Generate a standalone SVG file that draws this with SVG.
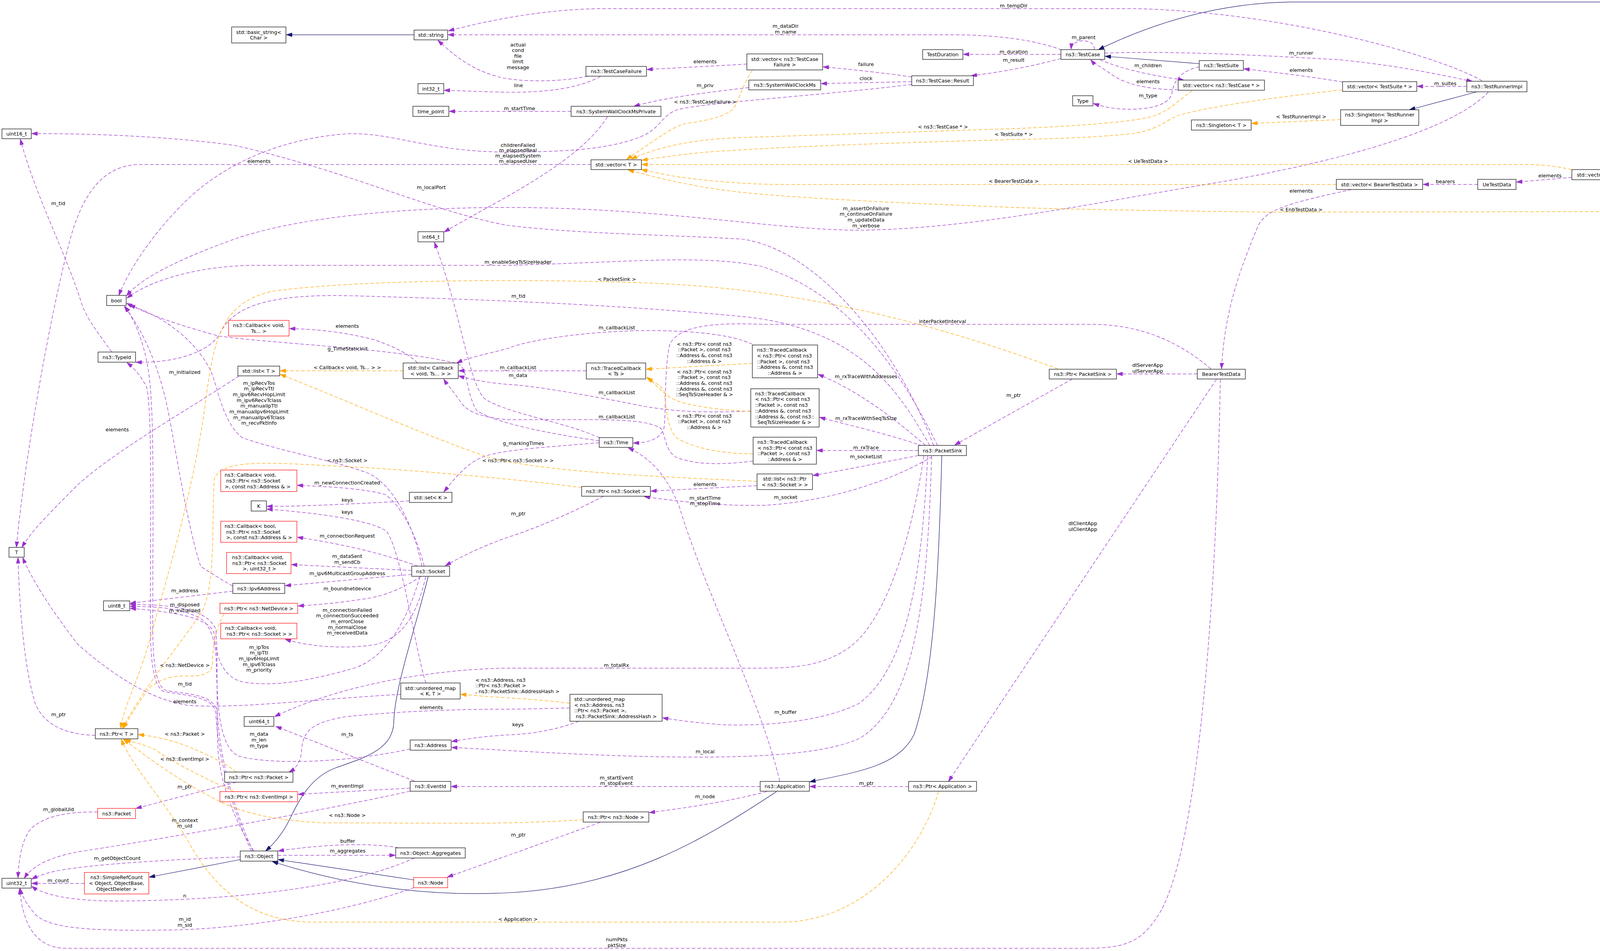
<svg xmlns="http://www.w3.org/2000/svg" width="5059" height="2434" viewBox="0 0 5059 2434">
<style>
text{font-family:"DejaVu Sans","Liberation Sans",sans-serif;font-size:12.8px;fill:#000}
.m{text-anchor:middle}
.s{text-anchor:start}
.nd rect{fill:#fff;stroke:#000;stroke-width:1.2}
.nd.r rect{stroke:#ff0000}
.nd.g rect{fill:#bfbfbf}
.e{fill:none;stroke-width:1.25}
.u{stroke:#9a32cd;stroke-dasharray:9,5;marker-end:url(#au)}
.t{stroke:#ffa500;stroke-dasharray:9,5;marker-end:url(#at)}
.i{stroke:#191970;marker-end:url(#ai)}
</style>
<defs>
<marker id="au" viewBox="0 0 15 10" refX="15" refY="5" markerWidth="15" markerHeight="10" orient="auto" markerUnits="userSpaceOnUse"><path d="M0,0L15,5L0,10z" fill="#9a32cd" stroke="#9a32cd" stroke-width="1"/></marker>
<marker id="at" viewBox="0 0 15 10" refX="15" refY="5" markerWidth="15" markerHeight="10" orient="auto" markerUnits="userSpaceOnUse"><path d="M0,0L15,5L0,10z" fill="#ffa500" stroke="#ffa500" stroke-width="1"/></marker>
<marker id="ai" viewBox="0 0 15 10" refX="15" refY="5" markerWidth="15" markerHeight="10" orient="auto" markerUnits="userSpaceOnUse"><path d="M0,0L15,5L0,10z" fill="#191970" stroke="#191970" stroke-width="1"/></marker>
</defs>
<rect x="0" y="0" width="5059" height="2434" fill="#fff"/>
<g id="connectors">
<path class="e i" d="M1060,89 L733,89"/>
<path class="e i" d="M4942,111 C4880,55 4790,5 4620,5 L3320,5 C3120,5 2950,60 2812,127"/>
<path class="e i" d="M3070,163 L2829,144"/>
<path class="e i" d="M3781,235 L3608,281"/>
<path class="e i" d="M2411,1166 C2405,1400 2395,1720 2340,1880 C2300,1960 2200,1975 2073,2001"/>
<path class="e i" d="M1988,2026 C1800,2150 1600,2270 1300,2285 C1100,2295 900,2270 697,2205"/>
<path class="e i" d="M1096,1476 C1060,1620 1010,1760 1008,1850 C1005,1920 930,1940 860,1965 C790,1990 760,2060 740,2100 C720,2140 695,2165 680,2178"/>
<path class="e i" d="M1059,2252 L712,2200"/>
<path class="e i" d="M615,2200 L382,2245"/>
<path class="e u" d="M2718,128 C2660,105 2560,89 2440,89 L1147,89"/>
<path class="e u" d="M3794,207 C3700,150 3300,30 2900,22 L1550,22 C1400,22 1250,52 1148,79"/>
<path class="e u" d="M1505,195 C1450,207 1360,212 1290,200 C1220,185 1170,150 1121,103"/>
<path class="e u" d="M1537,196 C1480,226 1400,237 1300,236 C1230,235 1180,232 1137,231"/>
<path class="e u" d="M1462,285 L1150,285"/>
<path class="e u" d="M1555,299 C1480,420 1260,520 1137,594"/>
<path class="e u" d="M2334,216 C2100,245 1800,262 1730,282 C1690,300 1690,330 1640,350 C1560,382 1450,389 1300,389 C1100,390 1000,335 880,343 C700,358 560,430 470,520 C390,600 330,690 304,756"/>
<path class="e u" d="M2334,209 L2102,214"/>
<path class="e u" d="M2334,197 C2250,185 2180,178 2107,171"/>
<path class="e u" d="M1912,164 L1656,178"/>
<path class="e u" d="M1917,224 C1800,238 1700,250 1623,272"/>
<path class="e u" d="M2716,139 L2466,139"/>
<path class="e u" d="M2716,150 C2640,170 2560,185 2486,194"/>
<path class="e u" d="M2801,127 C2806,98 2744,96 2742,126"/>
<path class="e u" d="M2816,153 C2880,180 2960,195 3031,205"/>
<path class="e u" d="M3016,230 C2930,228 2880,215 2845,190 C2820,172 2800,162 2792,153"/>
<path class="e u" d="M3070,171 C3030,180 3005,200 3000,240 C2990,275 2920,285 2850,277 C2830,274 2815,270 2799,265"/>
<path class="e u" d="M2828,136 C3000,130 3200,140 3429,153 C3600,170 3700,195 3769,208"/>
<path class="e u" d="M3437,210 C3350,195 3260,185 3184,176"/>
<path class="e u" d="M3755,221 L3628,221"/>
<path class="e u" d="M3810,236 C3720,330 3450,410 3100,470 C2850,510 2500,585 2212,589 C2000,592 1700,531 1300,531 C1000,531 750,560 600,612 C460,662 360,712 324,757"/>
<path class="e u" d="M3065,957 L2859,957"/>
<path class="e u" d="M3114,971 L2428,2000"/>
<path class="e u" d="M3124,971 C3115,1500 3070,2200 2960,2350 C2920,2410 2880,2427 2782,2427 L170,2427 C100,2427 60,2380 50,2274"/>
<path class="e u" d="M3460,485 C3300,520 3240,535 3220,580 C3170,700 3135,800 3127,944"/>
<path class="e u" d="M3783,472 L3643,472"/>
<path class="e u" d="M4024,454 L3882,466"/>
<path class="e u" d="M4298,447 L4222,447"/>
<path class="e u" d="M4517,447 L4404,447"/>
<path class="e u" d="M4948,137 L4635,434"/>
<path class="e u" d="M3100,944 C3000,860 2900,830 2790,830 L1950,830 C1820,825 1740,835 1715,880 C1700,940 1706,1040 1700,1095 C1690,1125 1660,1133 1621,1134"/>
<path class="e u" d="M2745,970 L2444,1139"/>
<path class="e u" d="M2400,1140 C2330,1000 2200,760 1950,682 C1800,650 1600,672 1300,679 L650,679 C500,681 380,720 325,763"/>
<path class="e u" d="M2390,1140 C2300,900 2100,640 1900,612 C1700,600 1500,600 1300,577 C1100,540 900,440 600,372 C400,345 200,342 81,342"/>
<path class="e u" d="M2380,1140 C2300,1000 2200,840 1900,810 C1600,782 1300,768 900,757 C700,752 600,780 565,850 C540,900 450,930 348,927"/>
<path class="e u" d="M2369,1140 C2300,1080 2200,1000 2094,958"/>
<path class="e u" d="M2361,1141 C2270,1110 2180,1090 2098,1068"/>
<path class="e u" d="M2351,1153 L2091,1153"/>
<path class="e u" d="M2351,1166 C2250,1185 2150,1205 2081,1217"/>
<path class="e u" d="M2386,1169 C2300,1220 2150,1280 1963,1293 C1850,1296 1750,1285 1649,1271"/>
<path class="e u" d="M1996,1999 C1950,1800 1800,1500 1740,1300 C1705,1210 1660,1170 1608,1146"/>
<path class="e u" d="M1946,2013 L1155,2013"/>
<path class="e u" d="M2326,2013 L2073,2013"/>
<path class="e u" d="M1963,2026 C1850,2055 1750,2068 1662,2080"/>
<path class="e u" d="M1536,2105 L1145,2245"/>
<path class="e u" d="M2385,1167 C2375,1500 2350,1800 2200,1890 C2100,1935 1900,1940 1700,1937 C1500,1934 1300,1920 1156,1913"/>
<path class="e u" d="M2375,1167 C2360,1450 2330,1700 2200,1800 C2100,1850 1950,1858 1850,1855 C1790,1850 1740,1845 1696,1837"/>
<path class="e u" d="M2365,1167 C2330,1400 2260,1600 2170,1660 C2110,1700 2050,1710 1950,1710 L1300,1710 C1150,1712 900,1740 703,1834"/>
<path class="e u" d="M1050,2017 L763,2033"/>
<path class="e u" d="M1050,2025 C800,2080 400,2150 200,2180 C120,2195 80,2220 62,2248"/>
<path class="e u" d="M1061,1999 L706,1859"/>
<path class="e u" d="M605,2002 L348,2069"/>
<path class="e u" d="M250,2078 C180,2078 120,2085 80,2120 C55,2150 48,2200 46,2247"/>
<path class="e u" d="M711,2189 L1012,2189"/>
<path class="e u" d="M1020,2170 C960,2158 850,2158 712,2178"/>
<path class="e u" d="M1061,2196 C900,2270 600,2305 300,2306 C180,2306 110,2290 81,2268"/>
<path class="e u" d="M615,2193 C450,2200 250,2210 150,2228 C115,2235 95,2243 81,2250"/>
<path class="e u" d="M216,2261 L81,2261"/>
<path class="e u" d="M1059,2272 C900,2330 650,2375 450,2380 C250,2383 130,2380 90,2340 C65,2310 55,2290 52,2274"/>
<path class="e u" d="M1534,1128 C1400,1110 1260,1080 1220,1050 C1190,1000 1200,940 1170,930 C1000,890 700,880 560,860 C450,830 380,805 324,776"/>
<path class="e u" d="M1534,1133 C1400,1145 1280,1150 1230,1172 C1190,1190 1160,1230 1136,1259"/>
<path class="e u" d="M1535,1121 C1450,1080 1300,1060 1240,1020 C1200,980 1180,800 1112,620"/>
<path class="e u" d="M1048,1282 C900,1290 780,1296 683,1296"/>
<path class="e u" d="M1090,1748 C1060,1650 1030,1420 990,1360 C950,1330 800,1312 683,1303"/>
<path class="e u" d="M1026,1777 C800,1790 600,1815 480,1805 C380,1790 280,1720 200,1650 C130,1560 80,1480 58,1427"/>
<path class="e u" d="M1513,421 L360,421 C250,421 200,520 170,650 C120,850 60,1200 42,1401"/>
<path class="e u" d="M612,962 C480,1050 300,1150 200,1240 C120,1320 80,1360 56,1401"/>
<path class="e u" d="M244,1882 C160,1880 110,1850 90,1800 C60,1700 50,1550 46,1427"/>
<path class="e u" d="M286,901 C250,850 225,820 210,780 C170,650 90,500 52,356"/>
<path class="e u" d="M1086,1449 C1060,1350 1020,1290 987,1266 C930,1250 850,1246 761,1242"/>
<path class="e u" d="M1070,1449 C960,1410 860,1390 761,1375"/>
<path class="e u" d="M1054,1460 L746,1445"/>
<path class="e u" d="M1054,1470 L730,1499"/>
<path class="e u" d="M1078,1475 C1040,1500 1000,1520 950,1530 C880,1542 820,1547 763,1551"/>
<path class="e u" d="M1090,1476 C1070,1560 1040,1630 960,1650 C880,1662 790,1655 730,1636"/>
<path class="e u" d="M1080,1449 C1060,1350 1010,1240 940,1210 C860,1180 700,1150 620,1120 C570,1080 560,1000 540,950 C500,870 420,810 331,781"/>
<path class="e u" d="M1075,1476 C1040,1600 980,1690 900,1712 C800,1740 700,1760 620,1745 C560,1730 552,1660 548,1620 C535,1580 440,1565 333,1557"/>
<path class="e u" d="M596,1513 L333,1544"/>
<path class="e u" d="M596,1500 C560,1480 530,1460 514,1450 C480,1350 450,1150 430,1050 C410,950 370,850 318,784"/>
<path class="e u" d="M650,2178 C600,2100 560,2000 557,1900 C554,1750 558,1650 552,1610 C530,1560 450,1547 333,1547"/>
<path class="e u" d="M643,2178 C600,2080 560,1960 552,1820 C540,1780 470,1780 420,1770 C395,1760 385,1700 385,1600 C385,1300 390,1050 375,990 C360,960 340,940 325,928"/>
<path class="e u" d="M647,2178 C604,2080 564,1960 556,1820 C545,1775 475,1777 425,1767 C400,1757 391,1700 391,1600 C391,1300 396,1050 380,950 C370,880 345,820 320,784"/>
<path class="e u" d="M1545,1270 C1450,1320 1350,1360 1300,1375 C1230,1400 1180,1425 1140,1448"/>
<path class="e u" d="M1938,1243 L1666,1257"/>
<path class="e u" d="M1069,929 C1040,900 1000,885 960,870 C880,850 820,843 741,841"/>
<path class="e u" d="M1501,949 L1174,949"/>
<path class="e u" d="M1926,881 C1880,860 1800,846 1650,846 C1500,848 1350,870 1300,892 C1250,905 1200,915 1169,929"/>
<path class="e u" d="M1922,1052 C1850,1055 1750,1058 1650,1040 C1500,1010 1350,985 1300,984 C1250,980 1200,970 1174,962"/>
<path class="e u" d="M1928,1180 C1850,1190 1780,1190 1730,1170 C1700,1150 1705,1110 1690,1095 C1660,1078 1600,1074 1500,1074 L1300,1074 C1250,1070 1200,1060 1180,1030 C1160,1000 1145,985 1136,970"/>
<path class="e u" d="M1482,1846 C1440,1862 1380,1878 1300,1881 C1230,1885 1190,1892 1156,1898"/>
<path class="e u" d="M1459,1812 C1400,1813 1350,1815 1300,1815 C1150,1815 1000,1822 880,1835 C800,1850 775,1870 772,1920 C770,1950 760,1965 740,1976"/>
<path class="e u" d="M1050,1917 C900,1950 700,1960 610,1935 C560,1910 556,1800 554,1700 C552,1640 540,1600 510,1580 C450,1555 400,1552 333,1552"/>
<path class="e t" d="M1926,180 C1905,210 1895,245 1880,275 C1860,300 1800,310 1756,316 C1720,325 1690,350 1604,408"/>
<path class="e t" d="M3052,232 C3020,255 2990,285 2956,296 C2900,315 2700,325 2600,329 L1900,352 C1800,356 1710,366 1616,407"/>
<path class="e t" d="M3436,230 C3300,245 3100,270 3015,296 C2980,310 2970,330 2900,342 C2800,352 2700,355 2600,357 C2300,365 2000,375 1800,390 C1720,398 1680,405 1643,410"/>
<path class="e t" d="M4024,434 C3980,425 3950,421 3900,421 L1643,421"/>
<path class="e t" d="M3421,472 L2005,472 C1900,472 1800,462 1720,450 C1690,444 1660,438 1642,434"/>
<path class="e t" d="M4595,460 C4550,490 4480,530 4380,541 L3263,543 C3000,540 2700,535 2600,531 C2300,520 2000,505 1880,490 C1780,478 1700,460 1608,435"/>
<path class="e t" d="M3432,306 L3204,316"/>
<path class="e t" d="M1032,949 L717,949"/>
<path class="e t" d="M1938,1232 C1700,1220 1400,1210 1250,1170 C1100,1120 900,1030 717,958"/>
<path class="e t" d="M1926,930 L1654,945"/>
<path class="e t" d="M1922,1053 C1850,1050 1760,1040 1720,1020 C1690,1000 1675,980 1656,965"/>
<path class="e t" d="M1928,1162 C1850,1160 1780,1150 1731,1120 C1705,1090 1705,1030 1700,1000 C1690,985 1670,975 1656,968"/>
<path class="e t" d="M2708,944 C2450,850 2100,740 1650,724 C1300,712 900,718 700,745 C580,770 550,850 530,1000 C500,1250 420,1500 380,1650 C350,1750 320,1800 309,1864"/>
<path class="e t" d="M1489,1248 C1400,1235 1100,1205 900,1195 C700,1185 560,1170 548,1230 C542,1350 552,1480 520,1560 C470,1640 380,1740 313,1864"/>
<path class="e t" d="M574,1571 C555,1600 544,1650 544,1700 C540,1725 520,1732 470,1730 C430,1730 400,1745 383,1760 C360,1790 335,1830 316,1864"/>
<path class="e t" d="M605,1976 C580,1955 540,1935 480,1910 C440,1895 400,1885 354,1880"/>
<path class="e t" d="M597,2025 C520,1990 440,1950 400,1920 C370,1905 340,1900 320,1892"/>
<path class="e t" d="M1493,2098 C1400,2104 1300,2107 1200,2107 L829,2106 C700,2100 620,2080 560,2050 C460,2000 380,1940 316,1892"/>
<path class="e t" d="M2403,2026 C2350,2200 2200,2360 2000,2360 L800,2360 C650,2360 550,2280 480,2150 C420,2050 330,1950 311,1892"/>
<path class="e t" d="M1459,1800 C1380,1790 1300,1786 1250,1783 L1179,1777"/>
<text class="m" x="2011" y="70.5">m_dataDir</text>
<text class="m" x="2011" y="85.5">m_name</text>
<text class="m" x="2595" y="18.5">m_tempDir</text>
<text class="m" x="1326" y="118.5"><tspan x="1326">actual</tspan><tspan x="1326" dy="14.5">cond</tspan><tspan x="1326" dy="14.5">file</tspan><tspan x="1326" dy="14.5">limit</tspan><tspan x="1326" dy="14.5">message</tspan></text>
<text class="m" x="1327" y="222.5">line</text>
<text class="m" x="1330" y="281.5">m_startTime</text>
<text class="m" x="1326" y="375.5">childrenFailed</text>
<text class="m" x="1326" y="388.5"><tspan x="1326">m_elapsedReal</tspan><tspan x="1326" dy="14">m_elapsedSystem</tspan><tspan x="1326" dy="14">m_elapsedUser</tspan></text>
<text class="m" x="2217" y="204.5">clock</text>
<text class="m" x="2217" y="168.5">failure</text>
<text class="m" x="1805" y="161.5">elements</text>
<text class="m" x="1805" y="222.5">m_priv</text>
<text class="m" x="2595" y="136.5">m_duration</text>
<text class="m" x="2595" y="157.5">m_result</text>
<text class="m" x="2774" y="99.5">m_parent</text>
<text class="m" x="2939" y="171.5">m_children</text>
<text class="m" x="2939" y="212.5">elements</text>
<text class="m" x="2939" y="248.5">m_type</text>
<text class="m" x="3331" y="139.5">m_runner</text>
<text class="m" x="3331" y="183.5">elements</text>
<text class="m" x="3700" y="217.5">m_suites</text>
<text class="m" x="2217" y="537.5"><tspan x="2217">m_assertOnFailure</tspan><tspan x="2217" dy="14.7">m_continueOnFailure</tspan><tspan x="2217" dy="14.7">m_updateData</tspan><tspan x="2217" dy="14.7">m_verbose</tspan></text>
<text class="m" x="2938" y="938.5"><tspan x="2938">dlServerApp</tspan><tspan x="2938" dy="15">ulServerApp</tspan></text>
<text class="m" x="2772" y="1343.5"><tspan x="2772">dlClientApp</tspan><tspan x="2772" dy="15">ulClientApp</tspan></text>
<text class="m" x="1579" y="2408.5"><tspan x="1579">numPkts</tspan><tspan x="1579" dy="15">pktSize</tspan></text>
<text class="m" x="3331" y="492.5">elements</text>
<text class="m" x="3700" y="468.5">bearers</text>
<text class="m" x="3968" y="453.5">elements</text>
<text class="m" x="4261" y="443.5">ues</text>
<text class="m" x="4462" y="443.5">elements</text>
<text class="m" x="4799" y="233.5">m_enbTestData</text>
<text class="m" x="2413" y="826.5">interPacketInterval</text>
<text class="m" x="2595" y="1015.5">m_ptr</text>
<text class="m" x="1326" y="674.5">m_enableSeqTsSizeHeader</text>
<text class="m" x="1104" y="483.5">m_localPort</text>
<text class="m" x="1327" y="761.5">m_tid</text>
<text class="m" x="2217" y="967.5">m_rxTraceWithAddresses</text>
<text class="m" x="2217" y="1074.5">m_rxTraceWithSeqTsSize</text>
<text class="m" x="2217" y="1149.5">m_rxTrace</text>
<text class="m" x="2217" y="1172.5">m_socketList</text>
<text class="m" x="2011" y="1276.5">m_socket</text>
<text class="m" x="1805" y="1278.5"><tspan x="1805">m_startTime</tspan><tspan x="1805" dy="14">m_stopTime</tspan></text>
<text class="m" x="1578" y="1994.5"><tspan x="1578">m_startEvent</tspan><tspan x="1578" dy="14">m_stopEvent</tspan></text>
<text class="m" x="2218" y="2008.5">m_ptr</text>
<text class="m" x="1805" y="2042.5">m_node</text>
<text class="m" x="1327" y="2140.5">m_ptr</text>
<text class="m" x="1805" y="1927.5">m_local</text>
<text class="m" x="2011" y="1826.5">m_buffer</text>
<text class="m" x="1578" y="1706.5">m_totalRx</text>
<text class="m" x="889" y="2015.5">m_eventImpl</text>
<text class="m" x="473" y="2103.5"><tspan x="473">m_context</tspan><tspan x="473" dy="14">m_uid</tspan></text>
<text class="m" x="889" y="1883.5">m_ts</text>
<text class="m" x="473" y="2017.5">m_ptr</text>
<text class="m" x="150" y="2075.5">m_globalUid</text>
<text class="m" x="890" y="2181.5">m_aggregates</text>
<text class="m" x="890" y="2156.5">buffer</text>
<text class="m" x="473" y="2296.5">n</text>
<text class="m" x="300" y="2200.5">m_getObjectCount</text>
<text class="m" x="149" y="2257.5">m_count</text>
<text class="m" x="473" y="2356.5"><tspan x="473">m_id</tspan><tspan x="473" dy="15">m_sid</tspan></text>
<text class="m" x="890" y="896.5">g_TimeStaticInit</text>
<text class="m" x="1340" y="1138.5">g_markingTimes</text>
<text class="m" x="1326" y="964.5">m_data</text>
<text class="m" x="889" y="1283.5">keys</text>
<text class="m" x="889" y="1314.5">keys</text>
<text class="m" x="473" y="1799.5">elements</text>
<text class="m" x="663" y="416.5">elements</text>
<text class="m" x="300" y="1103.5">elements</text>
<text class="m" x="150" y="1832.5">m_ptr</text>
<text class="m" x="149" y="524.5">m_tid</text>
<text class="m" x="889" y="1239.5">m_newConnectionCreated</text>
<text class="m" x="889" y="1375.5">m_connectionRequest</text>
<text class="m" x="889" y="1427.5"><tspan x="889">m_dataSent</tspan><tspan x="889" dy="15">m_sendCb</tspan></text>
<text class="m" x="889" y="1471.5">m_ipv6MulticastGroupAddress</text>
<text class="m" x="889" y="1510.5">m_boundnetdevice</text>
<text class="m" x="889" y="1565.5"><tspan x="889">m_connectionFailed</tspan><tspan x="889" dy="14.7">m_connectionSucceeded</tspan><tspan x="889" dy="14.7">m_errorClose</tspan><tspan x="889" dy="14.7">m_normalClose</tspan><tspan x="889" dy="14.7">m_receivedData</tspan></text>
<text class="m" x="663" y="984.5"><tspan x="663">m_ipRecvTos</tspan><tspan x="663" dy="14.7">m_ipRecvTtl</tspan><tspan x="663" dy="14.7">m_ipv6RecvHopLimit</tspan><tspan x="663" dy="14.7">m_ipv6RecvTclass</tspan><tspan x="663" dy="14.7">m_manualIpTtl</tspan><tspan x="663" dy="14.7">m_manualIpv6HopLimit</tspan><tspan x="663" dy="14.7">m_manualIpv6Tclass</tspan><tspan x="663" dy="14.7">m_recvPktInfo</tspan></text>
<text class="m" x="663" y="1660.5"><tspan x="663">m_ipTos</tspan><tspan x="663" dy="14.7">m_ipTtl</tspan><tspan x="663" dy="14.7">m_ipv6HopLimit</tspan><tspan x="663" dy="14.7">m_ipv6Tclass</tspan><tspan x="663" dy="14.7">m_priority</tspan></text>
<text class="m" x="473" y="1515.5">m_address</text>
<text class="m" x="473" y="956.5">m_initialized</text>
<text class="m" x="473" y="1551.5"><tspan x="473">m_disposed</tspan><tspan x="473" dy="15">m_initialized</tspan></text>
<text class="m" x="473" y="1754.5">m_tid</text>
<text class="m" x="1327" y="1318.5">m_ptr</text>
<text class="m" x="1805" y="1243.5">elements</text>
<text class="m" x="889" y="838.5">elements</text>
<text class="m" x="1326" y="944.5">m_callbackList</text>
<text class="m" x="1579" y="842.5">m_callbackList</text>
<text class="m" x="1579" y="1008.5">m_callbackList</text>
<text class="m" x="1579" y="1070.5">m_callbackList</text>
<text class="m" x="1326" y="1858.5">keys</text>
<text class="m" x="1104" y="1814.5">elements</text>
<text class="m" x="663" y="1882.5"><tspan x="663">m_data</tspan><tspan x="663" dy="15">m_len</tspan><tspan x="663" dy="15">m_type</tspan></text>
<text class="m" x="1805" y="264.5">&lt; ns3::TestCaseFailure &gt;</text>
<text class="m" x="2414" y="328.5">&lt; ns3::TestCase * &gt;</text>
<text class="m" x="2595" y="347.5">&lt; TestSuite * &gt;</text>
<text class="m" x="2939" y="416.5">&lt; UeTestData &gt;</text>
<text class="m" x="2595" y="467.5">&lt; BearerTestData &gt;</text>
<text class="m" x="3331" y="540.5">&lt; EnbTestData &gt;</text>
<text class="m" x="3331" y="302.5">&lt; TestRunnerImpl &gt;</text>
<text class="m" x="889" y="944.5">&lt; Callback&lt; void, Ts... &gt; &gt;</text>
<text class="m" x="1326" y="1182.5">&lt; ns3::Ptr&lt; ns3::Socket &gt; &gt;</text>
<text class="m" x="1579" y="718.5">&lt; PacketSink &gt;</text>
<text class="m" x="889" y="1182.5">&lt; ns3::Socket &gt;</text>
<text class="m" x="473" y="1706.5">&lt; ns3::NetDevice &gt;</text>
<text class="m" x="473" y="1882.5">&lt; ns3::Packet &gt;</text>
<text class="m" x="473" y="1946.5">&lt; ns3::EventImpl &gt;</text>
<text class="m" x="889" y="2090.5">&lt; ns3::Node &gt;</text>
<text class="m" x="1326" y="2356.5">&lt; Application &gt;</text>
<text class="m" x="1803" y="884.5"><tspan x="1803">&lt; ns3::Ptr&lt; const ns3</tspan><tspan x="1803" dy="14.7">::Packet &gt;, const ns3</tspan><tspan x="1803" dy="14.7">::Address &amp;, const ns3</tspan><tspan x="1803" dy="14.7">::Address &amp; &gt;</tspan></text>
<text class="m" x="1803" y="955.5"><tspan x="1803">&lt; ns3::Ptr&lt; const ns3</tspan><tspan x="1803" dy="14.7">::Packet &gt;, const ns3</tspan><tspan x="1803" dy="14.7">::Address &amp;, const ns3</tspan><tspan x="1803" dy="14.7">::Address &amp;, const ns3</tspan><tspan x="1803" dy="14.7">::SeqTsSizeHeader &amp; &gt;</tspan></text>
<text class="m" x="1803" y="1068.5"><tspan x="1803">&lt; ns3::Ptr&lt; const ns3</tspan><tspan x="1803" dy="14.7">::Packet &gt;, const ns3</tspan><tspan x="1803" dy="14.7">::Address &amp; &gt;</tspan></text>
<text class="s" x="1217" y="1744.5"><tspan x="1217">&lt; ns3::Address, ns3</tspan><tspan x="1217" dy="14.7">::Ptr&lt; ns3::Packet &gt;</tspan><tspan x="1217" dy="14.7">, ns3::PacketSink::AddressHash &gt;</tspan></text>
</g>
<g id="node-basic_string" class="nd"><rect x="593" y="69" width="139" height="41"/><text class="m" x="662.5" y="86.7">std::basic_string&lt;</text><text class="m" x="662.5" y="101.4">Char &gt;</text></g>
<g id="node-string" class="nd"><rect x="1060" y="77" width="86" height="25"/><text class="m" x="1103" y="94">std::string</text></g>
<g id="node-int32" class="nd"><rect x="1070" y="214" width="66" height="26"/><text class="m" x="1103" y="231.5">int32_t</text></g>
<g id="node-time_point" class="nd"><rect x="1057" y="272" width="92" height="26"/><text class="m" x="1103" y="289.5">time_point</text></g>
<g id="node-uint16" class="nd"><rect x="5" y="330" width="75" height="25"/><text class="m" x="42.5" y="347">uint16_t</text></g>
<g id="node-int64" class="nd"><rect x="1070" y="593" width="66" height="26"/><text class="m" x="1103" y="610.5">int64_t</text></g>
<g id="node-bool" class="nd"><rect x="273" y="756" width="50" height="26"/><text class="m" x="298" y="773.5">bool</text></g>
<g id="node-callback_ts" class="nd r"><rect x="585" y="820" width="155" height="40"/><text class="m" x="662.5" y="837.2">ns3::Callback&lt; void,</text><text class="m" x="662.5" y="851.9">Ts... &gt;</text></g>
<g id="node-typeid" class="nd"><rect x="251" y="901" width="96" height="26"/><text class="m" x="299" y="918.5">ns3::TypeId</text></g>
<g id="node-list_t" class="nd"><rect x="609" y="937" width="107" height="25"/><text class="m" x="662.5" y="954">std::list&lt; T &gt;</text></g>
<g id="node-list_callback" class="nd"><rect x="1032" y="929" width="141" height="40"/><text class="m" x="1102.5" y="946.2">std::list&lt; Callback</text><text class="m" x="1102.5" y="960.9">&lt; void, Ts... &gt; &gt;</text></g>
<g id="node-T" class="nd"><rect x="23" y="1401" width="39" height="25"/><text class="m" x="42.5" y="1418">T</text></g>
<g id="node-set_k" class="nd"><rect x="1048" y="1260" width="109" height="26"/><text class="m" x="1102.5" y="1277.5">std::set&lt; K &gt;</text></g>
<g id="node-K" class="nd"><rect x="643" y="1282" width="39" height="26"/><text class="m" x="662.5" y="1299.5">K</text></g>
<g id="node-cb_newconn" class="nd r"><rect x="565" y="1203" width="195" height="55"/><text class="s" x="575" y="1220.3">ns3::Callback&lt; void,</text><text class="s" x="579" y="1235">ns3::Ptr&lt; ns3::Socket</text><text class="s" x="575" y="1249.7">&gt;, const ns3::Address &amp; &gt;</text></g>
<g id="node-cb_bool" class="nd r"><rect x="565" y="1334" width="195" height="54"/><text class="s" x="575" y="1350.8">ns3::Callback&lt; bool,</text><text class="s" x="579" y="1365.5">ns3::Ptr&lt; ns3::Socket</text><text class="s" x="579" y="1380.2">&gt;, const ns3::Address &amp; &gt;</text></g>
<g id="node-cb_uint32" class="nd r"><rect x="580" y="1414" width="165" height="54"/><text class="m" x="660" y="1430.8">ns3::Callback&lt; void,</text><text class="m" x="664" y="1445.5">ns3::Ptr&lt; ns3::Socket</text><text class="m" x="664" y="1460.2">&gt;, uint32_t &gt;</text></g>
<g id="node-socket" class="nd"><rect x="1054" y="1449" width="97" height="26"/><text class="m" x="1102.5" y="1466.5">ns3::Socket</text></g>
<g id="node-ipv6" class="nd"><rect x="596" y="1493" width="133" height="26"/><text class="m" x="662.5" y="1510.5">ns3::Ipv6Address</text></g>
<g id="node-uint8" class="nd"><rect x="265" y="1538" width="67" height="25"/><text class="m" x="298.5" y="1555">uint8_t</text></g>
<g id="node-ptr_netdevice" class="nd r"><rect x="563" y="1544" width="199" height="26"/><text class="m" x="662.5" y="1561.5">ns3::Ptr&lt; ns3::NetDevice &gt;</text></g>
<g id="node-cb_socket" class="nd r"><rect x="565" y="1595" width="195" height="40"/><text class="s" x="576" y="1612.2">ns3::Callback&lt; void,</text><text class="s" x="580" y="1626.9">ns3::Ptr&lt; ns3::Socket &gt; &gt;</text></g>
<g id="node-ptr_t" class="nd"><rect x="244" y="1865" width="109" height="26"/><text class="m" x="298.5" y="1882.5">ns3::Ptr&lt; T &gt;</text></g>
<g id="node-umap_kt" class="nd"><rect x="1026" y="1748" width="152" height="41"/><text class="m" x="1102" y="1765.6">std::unordered_map</text><text class="m" x="1102" y="1780.3">&lt; K, T &gt;</text></g>
<g id="node-uint64" class="nd"><rect x="625" y="1834" width="76" height="25"/><text class="m" x="663" y="1851">uint64_t</text></g>
<g id="node-address" class="nd"><rect x="1050" y="1894" width="105" height="26"/><text class="m" x="1102.5" y="1911.5">ns3::Address</text></g>
<g id="node-ptr_packet" class="nd"><rect x="575" y="1976" width="175" height="26"/><text class="m" x="662.5" y="1993.5">ns3::Ptr&lt; ns3::Packet &gt;</text></g>
<g id="node-eventid" class="nd"><rect x="1050" y="2000" width="104" height="25"/><text class="m" x="1102" y="2017">ns3::EventId</text></g>
<g id="node-ptr_eventimpl" class="nd r"><rect x="563" y="2026" width="199" height="26"/><text class="m" x="662.5" y="2043.5">ns3::Ptr&lt; ns3::EventImpl &gt;</text></g>
<g id="node-packet" class="nd r"><rect x="250" y="2069" width="97" height="26"/><text class="m" x="298.5" y="2086.5">ns3::Packet</text></g>
<g id="node-object" class="nd"><rect x="615" y="2178" width="96" height="26"/><text class="m" x="663" y="2195.5">ns3::Object</text></g>
<g id="node-aggregates" class="nd"><rect x="1013" y="2170" width="178" height="26"/><text class="m" x="1102" y="2187.5">ns3::Object::Aggregates</text></g>
<g id="node-simplerefcount" class="nd r"><rect x="216" y="2233" width="165" height="55"/><text class="m" x="298.5" y="2250.3">ns3::SimpleRefCount</text><text class="m" x="298.5" y="2265">&lt; Object, ObjectBase,</text><text class="m" x="298.5" y="2279.7">ObjectDeleter &gt;</text></g>
<g id="node-uint32" class="nd"><rect x="5" y="2248" width="75" height="25"/><text class="m" x="42.5" y="2265">uint32_t</text></g>
<g id="node-node" class="nd r"><rect x="1059" y="2246" width="87" height="26"/><text class="m" x="1102.5" y="2263.5">ns3::Node</text></g>
<g id="node-testcasefailure" class="nd"><rect x="1500" y="170" width="155" height="25"/><text class="m" x="1577.5" y="187">ns3::TestCaseFailure</text></g>
<g id="node-swcm_private" class="nd"><rect x="1462" y="272" width="230" height="26"/><text class="m" x="1577" y="289.5">ns3::SystemWallClockMsPrivate</text></g>
<g id="node-vector_t" class="nd"><rect x="1513" y="409" width="129" height="25"/><text class="m" x="1577.5" y="426">std::vector&lt; T &gt;</text></g>
<g id="node-vector_tcf" class="nd"><rect x="1912" y="138" width="194" height="41"/><text class="m" x="2009" y="155.6">std::vector&lt; ns3::TestCase</text><text class="m" x="2009" y="170.3">Failure &gt;</text></g>
<g id="node-swcm" class="nd"><rect x="1917" y="205" width="184" height="25"/><text class="m" x="2009" y="222">ns3::SystemWallClockMs</text></g>
<g id="node-testduration" class="nd"><rect x="2362" y="127" width="103" height="25"/><text class="m" x="2413.5" y="144">TestDuration</text></g>
<g id="node-result" class="nd"><rect x="2334" y="194" width="158" height="25"/><text class="m" x="2413" y="211">ns3::TestCase::Result</text></g>
<g id="node-traced_ts" class="nd"><rect x="1501" y="929" width="152" height="41"/><text class="m" x="1577" y="946.6">ns3::TracedCallback</text><text class="m" x="1577" y="961.3">&lt; Ts &gt;</text></g>
<g id="node-traced_addr" class="nd"><rect x="1926" y="883" width="167" height="84"/><text class="s" x="1938" y="900.1">ns3::TracedCallback</text><text class="s" x="1938" y="914.8">&lt; ns3::Ptr&lt; const ns3</text><text class="s" x="1938" y="929.5">::Packet &gt;, const ns3</text><text class="s" x="1938" y="944.2">::Address &amp;, const ns3</text><text class="s" x="1965" y="958.9">::Address &amp; &gt;</text></g>
<g id="node-traced_seqts" class="nd"><rect x="1922" y="995" width="175" height="98"/><text class="s" x="1933" y="1011.7">ns3::TracedCallback</text><text class="s" x="1933" y="1026.4">&lt; ns3::Ptr&lt; const ns3</text><text class="s" x="1933" y="1041.1">::Packet &gt;, const ns3</text><text class="s" x="1933" y="1055.8">::Address &amp;, const ns3</text><text class="s" x="1933" y="1070.5">::Address &amp;, const ns3::</text><text class="s" x="1939" y="1085.2">SeqTsSizeHeader &amp; &gt;</text></g>
<g id="node-time" class="nd"><rect x="1534" y="1120" width="86" height="25"/><text class="m" x="1577" y="1137">ns3::Time</text></g>
<g id="node-traced_rx" class="nd"><rect x="1928" y="1119" width="162" height="69"/><text class="s" x="1939" y="1136">ns3::TracedCallback</text><text class="s" x="1939" y="1150.7">&lt; ns3::Ptr&lt; const ns3</text><text class="s" x="1939" y="1165.4">::Packet &gt;, const ns3</text><text class="s" x="1965" y="1180.1">::Address &amp; &gt;</text></g>
<g id="node-packetsink" class="nd"><rect x="2351" y="1140" width="123" height="26"/><text class="m" x="2412.5" y="1157.5">ns3::PacketSink</text></g>
<g id="node-list_ptr_socket" class="nd"><rect x="1938" y="1213" width="142" height="40"/><text class="m" x="2009" y="1230.2">std::list&lt; ns3::Ptr</text><text class="m" x="2009" y="1244.9">&lt; ns3::Socket &gt; &gt;</text></g>
<g id="node-ptr_socket" class="nd"><rect x="1489" y="1245" width="176" height="25"/><text class="m" x="1577" y="1262">ns3::Ptr&lt; ns3::Socket &gt;</text></g>
<g id="node-umap_addr" class="nd"><rect x="1459" y="1777" width="236" height="69"/><text class="s" x="1470" y="1794">std::unordered_map</text><text class="s" x="1470" y="1808.7">&lt; ns3::Address, ns3</text><text class="s" x="1470" y="1823.4">::Ptr&lt; ns3::Packet &gt;,</text><text class="s" x="1474" y="1838.1">ns3::PacketSink::AddressHash &gt;</text></g>
<g id="node-application" class="nd"><rect x="1946" y="2000" width="126" height="25"/><text class="m" x="2009" y="2017">ns3::Application</text></g>
<g id="node-ptr_application" class="nd"><rect x="2326" y="2000" width="174" height="25"/><text class="m" x="2413" y="2017">ns3::Ptr&lt; Application &gt;</text></g>
<g id="node-ptr_node" class="nd"><rect x="1493" y="2078" width="168" height="26"/><text class="m" x="1577" y="2095.5">ns3::Ptr&lt; ns3::Node &gt;</text></g>
<g id="node-testcase" class="nd"><rect x="2716" y="127" width="112" height="25"/><text class="m" x="2772" y="144">ns3::TestCase</text></g>
<g id="node-testsuite" class="nd"><rect x="3070" y="155" width="113" height="25"/><text class="m" x="3126.5" y="172">ns3::TestSuite</text></g>
<g id="node-vector_testcase" class="nd"><rect x="3016" y="205" width="221" height="26"/><text class="m" x="3126.5" y="222.5">std::vector&lt; ns3::TestCase * &gt;</text></g>
<g id="node-vector_testsuite" class="nd"><rect x="3437" y="209" width="190" height="25"/><text class="m" x="3532" y="226">std::vector&lt; TestSuite * &gt;</text></g>
<g id="node-testrunnerimpl" class="nd"><rect x="3755" y="208" width="154" height="27"/><text class="m" x="3832" y="226">ns3::TestRunnerImpl</text></g>
<g id="node-type" class="nd"><rect x="2746" y="245" width="52" height="26"/><text class="m" x="2772" y="262.5">Type</text></g>
<g id="node-singleton_tri" class="nd"><rect x="3432" y="281" width="200" height="40"/><text class="m" x="3532" y="298.2">ns3::Singleton&lt; TestRunner</text><text class="m" x="3532" y="312.9">Impl &gt;</text></g>
<g id="node-singleton_t" class="nd"><rect x="3050" y="307" width="153" height="26"/><text class="m" x="3126.5" y="324.5">ns3::Singleton&lt; T &gt;</text></g>
<g id="node-vector_btd" class="nd"><rect x="3421" y="459" width="221" height="26"/><text class="m" x="3531.5" y="476.5">std::vector&lt; BearerTestData &gt;</text></g>
<g id="node-uetestdata" class="nd"><rect x="3783" y="459" width="98" height="26"/><text class="m" x="3832" y="476.5">UeTestData</text></g>
<g id="node-ptr_packetsink" class="nd"><rect x="2686" y="945" width="172" height="25"/><text class="m" x="2772" y="962">ns3::Ptr&lt; PacketSink &gt;</text></g>
<g id="node-bearertestdata" class="nd"><rect x="3065" y="945" width="123" height="25"/><text class="m" x="3126.5" y="962">BearerTestData</text></g>
<g id="node-vector_ue" class="nd"><rect x="4024" y="434" width="197" height="26"/><text class="m" x="4122.5" y="451.5">std::vector&lt; UeTestData &gt;</text></g>
<g id="node-enbtestdata" class="nd"><rect x="4298" y="434" width="105" height="26"/><text class="m" x="4350.5" y="451.5">EnbTestData</text></g>
<g id="node-vector_enb" class="nd"><rect x="4517" y="434" width="204" height="26"/><text class="m" x="4619" y="451.5">std::vector&lt; EnbTestData &gt;</text></g>
<g id="node-lteepc" class="nd g"><rect x="4874" y="111" width="179" height="26"/><text class="m" x="4963.5" y="128.5">LteEpcE2eDataTestCase</text></g>
</svg>
